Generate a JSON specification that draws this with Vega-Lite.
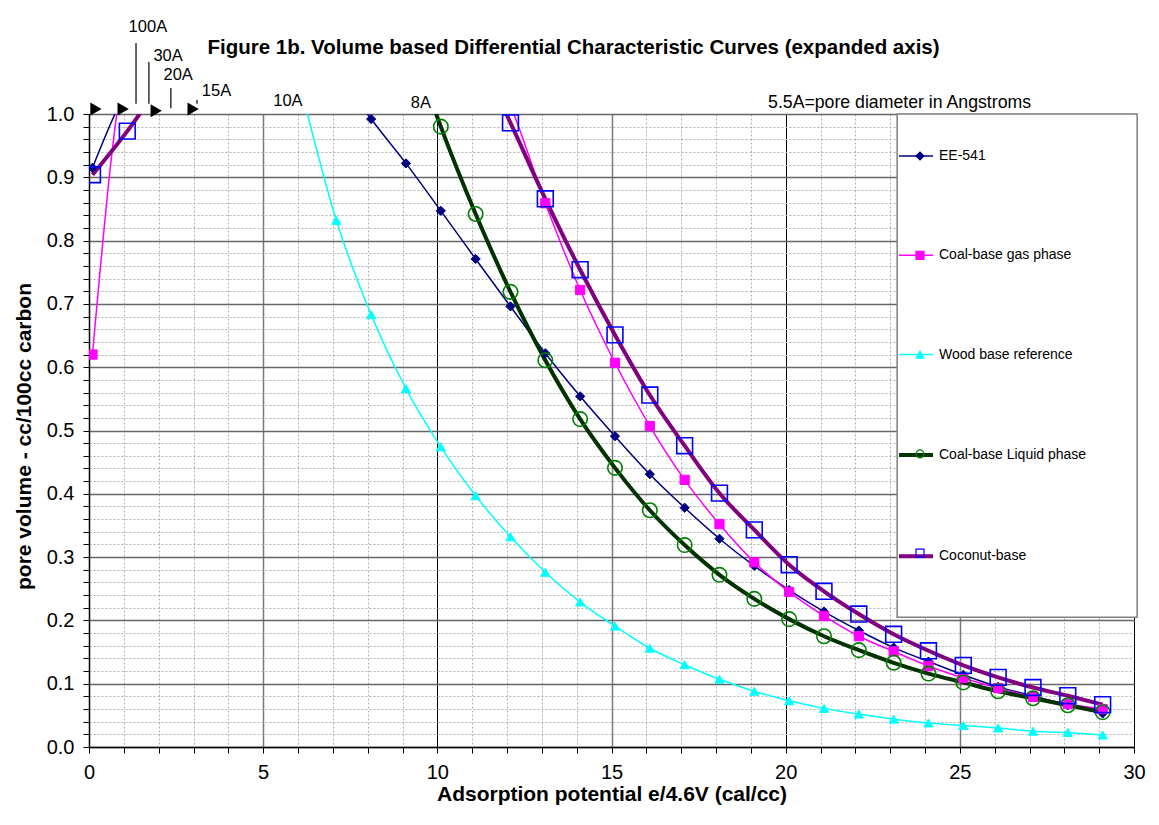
{
  "$schema": "https://vega.github.io/schema/vega-lite/v6.json",
  "width": 1045,
  "height": 633,
  "autosize": {"type": "none"},
  "padding": {"left": 89, "top": 114, "right": 25, "bottom": 78},
  "background": "white",
  "config": {"view": {"stroke": null}, "font": "Liberation Sans"},
  "title": {
    "text": "Figure 1b. Volume based Differential Characteristic Curves (expanded axis)",
    "font": "Liberation Sans", "fontSize": 20.5, "fontWeight": "bold", "color": "black",
    "anchor": "middle", "frame": "group", "offset": 0, "dx": -38, "dy": 40
  },
  "datasets": {
    "curves": [
      {"series": "EE-541", "x": 0.1, "y": 0.915}, {"series": "EE-541", "x": 1.1, "y": 1.04}, {"series": "EE-541", "x": 2.1, "y": 1.11}, {"series": "EE-541", "x": 3.1, "y": 1.15}, {"series": "EE-541", "x": 4.1, "y": 1.18}, {"series": "EE-541", "x": 5.1, "y": 1.18}, {"series": "EE-541", "x": 6.1, "y": 1.14}, {"series": "EE-541", "x": 7.1, "y": 1.07}, {"series": "EE-541", "x": 8.1, "y": 0.992}, {"series": "EE-541", "x": 9.1, "y": 0.922}, {"series": "EE-541", "x": 10.1, "y": 0.847}, {"series": "EE-541", "x": 11.1, "y": 0.771}, {"series": "EE-541", "x": 12.1, "y": 0.696}, {"series": "EE-541", "x": 13.1, "y": 0.622}, {"series": "EE-541", "x": 14.1, "y": 0.554}, {"series": "EE-541", "x": 15.1, "y": 0.491}, {"series": "EE-541", "x": 16.1, "y": 0.431}, {"series": "EE-541", "x": 17.1, "y": 0.378}, {"series": "EE-541", "x": 18.1, "y": 0.329}, {"series": "EE-541", "x": 19.1, "y": 0.286}, {"series": "EE-541", "x": 20.1, "y": 0.248}, {"series": "EE-541", "x": 21.1, "y": 0.214}, {"series": "EE-541", "x": 22.1, "y": 0.184}, {"series": "EE-541", "x": 23.1, "y": 0.157}, {"series": "EE-541", "x": 24.1, "y": 0.135}, {"series": "EE-541", "x": 25.1, "y": 0.114}, {"series": "EE-541", "x": 26.1, "y": 0.095}, {"series": "EE-541", "x": 27.1, "y": 0.081}, {"series": "EE-541", "x": 28.1, "y": 0.066}, {"series": "EE-541", "x": 29.1, "y": 0.053},
      {"series": "Coal-base gas phase", "x": 0.1, "y": 0.62}, {"series": "Coal-base gas phase", "x": 1.1, "y": 1.09}, {"series": "Coal-base gas phase", "x": 2.1, "y": 1.18}, {"series": "Coal-base gas phase", "x": 3.1, "y": 1.25}, {"series": "Coal-base gas phase", "x": 4.1, "y": 1.3}, {"series": "Coal-base gas phase", "x": 5.1, "y": 1.33}, {"series": "Coal-base gas phase", "x": 6.1, "y": 1.34}, {"series": "Coal-base gas phase", "x": 7.1, "y": 1.33}, {"series": "Coal-base gas phase", "x": 8.1, "y": 1.3}, {"series": "Coal-base gas phase", "x": 9.1, "y": 1.25}, {"series": "Coal-base gas phase", "x": 10.1, "y": 1.18}, {"series": "Coal-base gas phase", "x": 11.1, "y": 1.1}, {"series": "Coal-base gas phase", "x": 12.1, "y": 1.012}, {"series": "Coal-base gas phase", "x": 13.1, "y": 0.859}, {"series": "Coal-base gas phase", "x": 14.1, "y": 0.722}, {"series": "Coal-base gas phase", "x": 15.1, "y": 0.607}, {"series": "Coal-base gas phase", "x": 16.1, "y": 0.507}, {"series": "Coal-base gas phase", "x": 17.1, "y": 0.422}, {"series": "Coal-base gas phase", "x": 18.1, "y": 0.352}, {"series": "Coal-base gas phase", "x": 19.1, "y": 0.292}, {"series": "Coal-base gas phase", "x": 20.1, "y": 0.245}, {"series": "Coal-base gas phase", "x": 21.1, "y": 0.207}, {"series": "Coal-base gas phase", "x": 22.1, "y": 0.175}, {"series": "Coal-base gas phase", "x": 23.1, "y": 0.151}, {"series": "Coal-base gas phase", "x": 24.1, "y": 0.128}, {"series": "Coal-base gas phase", "x": 25.1, "y": 0.109}, {"series": "Coal-base gas phase", "x": 26.1, "y": 0.093}, {"series": "Coal-base gas phase", "x": 27.1, "y": 0.079}, {"series": "Coal-base gas phase", "x": 28.1, "y": 0.068}, {"series": "Coal-base gas phase", "x": 29.1, "y": 0.06},
      {"series": "Wood base reference", "x": 4.1, "y": 1.5}, {"series": "Wood base reference", "x": 5.1, "y": 1.24}, {"series": "Wood base reference", "x": 6.1, "y": 1.035}, {"series": "Wood base reference", "x": 7.1, "y": 0.832}, {"series": "Wood base reference", "x": 8.1, "y": 0.683}, {"series": "Wood base reference", "x": 9.1, "y": 0.566}, {"series": "Wood base reference", "x": 10.1, "y": 0.474}, {"series": "Wood base reference", "x": 11.1, "y": 0.397}, {"series": "Wood base reference", "x": 12.1, "y": 0.332}, {"series": "Wood base reference", "x": 13.1, "y": 0.276}, {"series": "Wood base reference", "x": 14.1, "y": 0.229}, {"series": "Wood base reference", "x": 15.1, "y": 0.191}, {"series": "Wood base reference", "x": 16.1, "y": 0.156}, {"series": "Wood base reference", "x": 17.1, "y": 0.13}, {"series": "Wood base reference", "x": 18.1, "y": 0.107}, {"series": "Wood base reference", "x": 19.1, "y": 0.088}, {"series": "Wood base reference", "x": 20.1, "y": 0.073}, {"series": "Wood base reference", "x": 21.1, "y": 0.061}, {"series": "Wood base reference", "x": 22.1, "y": 0.052}, {"series": "Wood base reference", "x": 23.1, "y": 0.044}, {"series": "Wood base reference", "x": 24.1, "y": 0.038}, {"series": "Wood base reference", "x": 25.1, "y": 0.034}, {"series": "Wood base reference", "x": 26.1, "y": 0.03}, {"series": "Wood base reference", "x": 27.1, "y": 0.025}, {"series": "Wood base reference", "x": 28.1, "y": 0.023}, {"series": "Wood base reference", "x": 29.1, "y": 0.019},
      {"series": "Coal-base Liquid phase", "x": 7.1, "y": 1.55}, {"series": "Coal-base Liquid phase", "x": 8.1, "y": 1.33}, {"series": "Coal-base Liquid phase", "x": 9.1, "y": 1.14}, {"series": "Coal-base Liquid phase", "x": 10.1, "y": 0.98}, {"series": "Coal-base Liquid phase", "x": 11.1, "y": 0.842}, {"series": "Coal-base Liquid phase", "x": 12.1, "y": 0.719}, {"series": "Coal-base Liquid phase", "x": 13.1, "y": 0.611}, {"series": "Coal-base Liquid phase", "x": 14.1, "y": 0.518}, {"series": "Coal-base Liquid phase", "x": 15.1, "y": 0.441}, {"series": "Coal-base Liquid phase", "x": 16.1, "y": 0.374}, {"series": "Coal-base Liquid phase", "x": 17.1, "y": 0.319}, {"series": "Coal-base Liquid phase", "x": 18.1, "y": 0.272}, {"series": "Coal-base Liquid phase", "x": 19.1, "y": 0.234}, {"series": "Coal-base Liquid phase", "x": 20.1, "y": 0.202}, {"series": "Coal-base Liquid phase", "x": 21.1, "y": 0.175}, {"series": "Coal-base Liquid phase", "x": 22.1, "y": 0.153}, {"series": "Coal-base Liquid phase", "x": 23.1, "y": 0.133}, {"series": "Coal-base Liquid phase", "x": 24.1, "y": 0.116}, {"series": "Coal-base Liquid phase", "x": 25.1, "y": 0.102}, {"series": "Coal-base Liquid phase", "x": 26.1, "y": 0.088}, {"series": "Coal-base Liquid phase", "x": 27.1, "y": 0.077}, {"series": "Coal-base Liquid phase", "x": 28.1, "y": 0.066}, {"series": "Coal-base Liquid phase", "x": 29.1, "y": 0.055},
      {"series": "Coconut-base", "x": 0.1, "y": 0.904}, {"series": "Coconut-base", "x": 1.1, "y": 0.973}, {"series": "Coconut-base", "x": 2.1, "y": 1.05}, {"series": "Coconut-base", "x": 3.1, "y": 1.12}, {"series": "Coconut-base", "x": 4.1, "y": 1.18}, {"series": "Coconut-base", "x": 5.1, "y": 1.22}, {"series": "Coconut-base", "x": 6.1, "y": 1.25}, {"series": "Coconut-base", "x": 7.1, "y": 1.26}, {"series": "Coconut-base", "x": 8.1, "y": 1.25}, {"series": "Coconut-base", "x": 9.1, "y": 1.22}, {"series": "Coconut-base", "x": 10.1, "y": 1.17}, {"series": "Coconut-base", "x": 11.1, "y": 1.1}, {"series": "Coconut-base", "x": 12.1, "y": 0.986}, {"series": "Coconut-base", "x": 13.1, "y": 0.866}, {"series": "Coconut-base", "x": 14.1, "y": 0.754}, {"series": "Coconut-base", "x": 15.1, "y": 0.651}, {"series": "Coconut-base", "x": 16.1, "y": 0.556}, {"series": "Coconut-base", "x": 17.1, "y": 0.476}, {"series": "Coconut-base", "x": 18.1, "y": 0.401}, {"series": "Coconut-base", "x": 19.1, "y": 0.343}, {"series": "Coconut-base", "x": 20.1, "y": 0.288}, {"series": "Coconut-base", "x": 21.1, "y": 0.246}, {"series": "Coconut-base", "x": 22.1, "y": 0.21}, {"series": "Coconut-base", "x": 23.1, "y": 0.178}, {"series": "Coconut-base", "x": 24.1, "y": 0.152}, {"series": "Coconut-base", "x": 25.1, "y": 0.129}, {"series": "Coconut-base", "x": 26.1, "y": 0.11}, {"series": "Coconut-base", "x": 27.1, "y": 0.094}, {"series": "Coconut-base", "x": 28.1, "y": 0.081}, {"series": "Coconut-base", "x": 29.1, "y": 0.067}
    ],
    "legendBox": [{"x": 23.2, "x2": 30.09, "y": 0.205, "y2": 1.0}],
    "annRules": [
      {"x": 1.35, "y": 1.016, "y2": 1.112},
      {"x": 1.72, "y": 1.016, "y2": 1.082},
      {"x": 2.35, "y": 1.009, "y2": 1.041},
      {"x": 3.1, "y": 1.016, "y2": 1.022}
    ],
    "annArrows": [
      {"x": 0.2, "y": 1.008},
      {"x": 0.98, "y": 1.008},
      {"x": 1.93, "y": 1.005},
      {"x": 2.99, "y": 1.008}
    ],
    "annText": [
      {"x": 1.69, "y": 1.138, "label": "100A"},
      {"x": 2.27, "y": 1.092, "label": "30A"},
      {"x": 2.56, "y": 1.061, "label": "20A"},
      {"x": 3.66, "y": 1.036, "label": "15A"},
      {"x": 5.71, "y": 1.02, "label": "10A"},
      {"x": 9.53, "y": 1.018, "label": "8A"}
    ],
    "annNote": [
      {"x": 23.27, "y": 1.018, "label": "5.5A=pore diameter in Angstroms"}
    ]
  },
  "data": {"name": "curves"},
  "encoding": {
    "x": {
      "field": "x", "type": "quantitative",
      "scale": {"domain": [0, 30], "nice": false, "zero": false},
      "axis": {
        "title": "Adsorption potential e/4.6V (cal/cc)",
        "titleFont": "Liberation Sans", "titleFontSize": 21, "titleFontWeight": "bold", "titleColor": "black", "titlePadding": 1,
        "values": [0,1,2,3,4,5,6,7,8,9,10,11,12,13,14,15,16,17,18,19,20,21,22,23,24,25,26,27,28,29,30],
        "format": "d",
        "labelExpr": "datum.value % 5 === 0 ? datum.label : ''",
        "labelFont": "Liberation Sans", "labelFontSize": 20, "labelColor": "black", "labelPadding": 9,
        "labelFlush": false, "labelOverlap": false,
        "tickSize": 6, "tickColor": "black", "tickWidth": 1,
        "domainColor": "black", "domainWidth": 1.5,
        "grid": true,
        "gridColor": {"condition": [{"test": "datum.value % 10 === 0", "value": "#000000"}, {"test": "datum.value % 5 === 0", "value": "#7a7a7a"}], "value": "#b0b0b0"},
        "gridDash": {"condition": {"test": "datum.value % 5 === 0", "value": []}, "value": [2, 2]},
        "gridWidth": {"condition": [{"test": "datum.value % 10 === 0", "value": 1}, {"test": "datum.value % 5 === 0", "value": 1.5}], "value": 1}
      }
    },
    "y": {
      "field": "y", "type": "quantitative",
      "scale": {"domain": [0, 1], "nice": false, "zero": false},
      "axis": {
        "title": "pore volume - cc/100cc carbon",
        "titleFont": "Liberation Sans", "titleFontSize": 21, "titleFontWeight": "bold", "titleColor": "black", "titlePadding": 12,
        "titleY": 322,
        "values": [0, 0.02, 0.04, 0.06, 0.08, 0.1, 0.12, 0.14, 0.16, 0.18, 0.2, 0.22, 0.24, 0.26, 0.28, 0.3, 0.32, 0.34, 0.36, 0.38, 0.4, 0.42, 0.44, 0.46, 0.48, 0.5, 0.52, 0.54, 0.56, 0.58, 0.6, 0.62, 0.64, 0.66, 0.68, 0.7, 0.72, 0.74, 0.76, 0.78, 0.8, 0.82, 0.84, 0.86, 0.88, 0.9, 0.92, 0.94, 0.96, 0.98, 1.0],
        "format": ".1f",
        "labelExpr": "round(datum.value * 100) % 10 === 0 ? datum.label : ''",
        "labelFont": "Liberation Sans", "labelFontSize": 20, "labelColor": "black", "labelPadding": 9,
        "labelFlush": false, "labelOverlap": false,
        "tickSize": 6, "tickColor": "black", "tickWidth": 1,
        "domainColor": "black", "domainWidth": 1.5,
        "grid": true,
        "gridColor": {"condition": {"test": "round(datum.value * 100) % 10 === 0", "value": "#666666"}, "value": "#b0b0b0"},
        "gridDash": {"condition": {"test": "round(datum.value * 100) % 10 === 0", "value": []}, "value": [2, 2]},
        "gridWidth": {"condition": {"test": "round(datum.value * 100) % 10 === 0", "value": 1.4}, "value": 1}
      }
    }
  },
  "layer": [
    {
      "data": {"name": "legendBox"},
      "mark": {"type": "rect", "fill": "white", "stroke": "#808080", "strokeWidth": 1.5},
      "encoding": {"x2": {"field": "x2"}, "y2": {"field": "y2"}}
    },
    {
      "mark": {"type": "line", "interpolate": "monotone", "clip": true},
      "encoding": {
        "color": {
          "field": "series", "type": "nominal",
          "sort": ["EE-541", "Coal-base gas phase", "Wood base reference", "Coal-base Liquid phase", "Coconut-base"],
          "scale": {"range": ["#000080", "#ff00ff", "#00ffff", "#003300", "#800080"]},
          "legend": {
            "orient": "none", "legendX": 820, "legendY": 35, "title": null, "direction": "vertical",
            "symbolType": "stroke", "symbolSize": 1156, "symbolStrokeWidth": 1.5,
            "labelFont": "Liberation Sans", "labelFontSize": 14, "labelColor": "black", "labelOffset": 16, "labelLimit": 300,
            "rowPadding": 85.3, "padding": 0,
            "encode": {"symbols": {"update": {"strokeWidth": {"signal": "(datum.value === 'Coal-base Liquid phase' || datum.value === 'Coconut-base') ? 4 : 1.5"}}}}
          }
        },
        "strokeWidth": {"condition": {"test": "datum.series === 'Coal-base Liquid phase' || datum.series === 'Coconut-base'", "value": 4}, "value": 1.5}
      }
    },
    {
      "mark": {"type": "point", "opacity": 1, "clip": true},
      "encoding": {
        "shape": {
          "field": "series", "type": "nominal",
          "scale": {"domain": ["EE-541", "Coal-base gas phase", "Wood base reference", "Coal-base Liquid phase", "Coconut-base"], "range": ["diamond", "square", "triangle-up", "circle", "square"]},
          "legend": {
            "orient": "none", "legendX": 824, "legendY": 35, "title": null, "direction": "vertical",
            "symbolSize": 64, "symbolStrokeWidth": 1.2, "symbolOpacity": 1,
            "labelFont": "Liberation Sans", "labelFontSize": 14, "labelExpr": "''", "labelLimit": 300,
            "rowPadding": 85.3, "padding": 0
          }
        },
        "fill": {
          "field": "series", "type": "nominal",
          "scale": {"domain": ["EE-541", "Coal-base gas phase", "Wood base reference", "Coal-base Liquid phase", "Coconut-base"], "range": ["#000080", "#ff00ff", "#00ffff", "transparent", "transparent"]},
          "legend": {
            "orient": "none", "legendX": 824, "legendY": 35, "title": null, "direction": "vertical",
            "symbolSize": 64, "symbolStrokeWidth": 1.2, "symbolOpacity": 1,
            "labelFont": "Liberation Sans", "labelFontSize": 14, "labelExpr": "''", "labelLimit": 300,
            "rowPadding": 85.3, "padding": 0
          }
        },
        "stroke": {
          "field": "series", "type": "nominal",
          "scale": {"domain": ["EE-541", "Coal-base gas phase", "Wood base reference", "Coal-base Liquid phase", "Coconut-base"], "range": ["#000080", "#ff00ff", "#00ffff", "#008000", "#0000ff"]},
          "legend": {
            "orient": "none", "legendX": 824, "legendY": 35, "title": null, "direction": "vertical",
            "symbolSize": 64, "symbolStrokeWidth": 1.2, "symbolOpacity": 1,
            "labelFont": "Liberation Sans", "labelFontSize": 14, "labelExpr": "''", "labelLimit": 300,
            "rowPadding": 85.3, "padding": 0
          }
        },
        "size": {"condition": [{"test": "datum.series === 'Coal-base Liquid phase'", "value": 210}, {"test": "datum.series === 'Coconut-base'", "value": 250}], "value": 85},
        "strokeWidth": {"condition": {"test": "datum.series === 'Coal-base Liquid phase' || datum.series === 'Coconut-base'", "value": 1.6}, "value": 1}
      }
    },
    {
      "data": {"name": "annRules"},
      "mark": {"type": "rule", "color": "black", "strokeWidth": 1.2},
      "encoding": {"y2": {"field": "y2"}}
    },
    {
      "data": {"name": "annArrows"},
      "mark": {"type": "point", "shape": "triangle-right", "filled": true, "color": "black", "opacity": 1, "size": 170},
      "encoding": {}
    },
    {
      "data": {"name": "annText"},
      "mark": {"type": "text", "font": "Liberation Sans", "fontSize": 16.5, "color": "black", "align": "center", "baseline": "middle"},
      "encoding": {"text": {"field": "label", "type": "nominal"}}
    },
    {
      "data": {"name": "annNote"},
      "mark": {"type": "text", "font": "Liberation Sans", "fontSize": 17.7, "color": "black", "align": "center", "baseline": "middle"},
      "encoding": {"text": {"field": "label", "type": "nominal"}}
    }
  ]
}
